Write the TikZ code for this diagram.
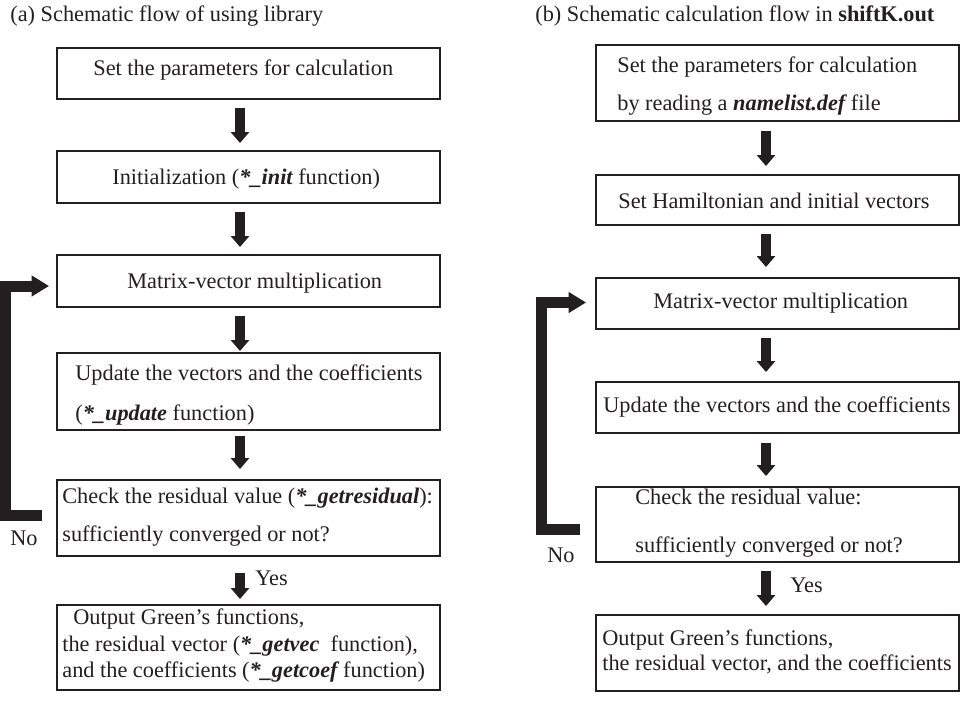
\documentclass[tikz,border=0pt]{standalone}
\usepackage{fontspec}
\setmainfont{Liberation Serif}
\usetikzlibrary{arrows.meta}
\definecolor{ink}{HTML}{231F20}

\tikzset{
  box/.style={draw=ink, line width=1.1pt, inner sep=0pt},
  boxA/.style={box, minimum width=7.66cm},
  boxB/.style={box, minimum width=7.26cm},
  txt/.style={anchor=base west, inner sep=0pt, text=ink, font=\fontsize{12.7}{15}\selectfont},
  flow/.style={draw=ink, line width=0.19cm, -{Triangle[length=0.22cm,width=0.36cm]}},
  back/.style={draw=ink, line width=0.22cm, line join=miter, -{Triangle[length=0.35cm,width=0.4cm]}},
}
\newcommand{\fn}[1]{{\bfseries\itshape #1}}

\begin{document}
\begin{tikzpicture}[x=0.02cm, y=-0.02cm]

    \useasboundingbox (0,0) rectangle (960,714);

    % (a) flow of using library
    \node[txt] (ta) at (10,21) {(a) Schematic flow of using library};

    \node[boxA, minimum height=1.02cm] (a1) at (248.5,73.5) {};
    \node[txt] (a1t) at (93,75) {Set the parameters for calculation};

    \node[boxA, minimum height=1.04cm] (a2) at (248.5,177) {};
    \node[txt] (a2t) at (112,184) {Initialization (\fn{*\_init} function)};

    \node[boxA, minimum height=1.04cm] (a3) at (248.5,281) {};
    \node[txt] (a3t) at (127,288) {Matrix-vector multiplication};

    \node[boxA, minimum height=1.54cm] (a4) at (248.5,391.5) {};
    \node[txt] (a4t) at (75,380) {Update the vectors and the coefficients};
    \node[txt] (a4u) at (75,420) {(\fn{*\_update} function)};

    \node[boxA, minimum height=1.52cm] (a5) at (248.5,518) {};
    \node[txt] (a5t) at (62,503) {Check the residual value (\fn{*\_getresidual}):};
    \node[txt] (a5u) at (62,541) {sufficiently converged or not?};

    \node[boxA, minimum height=1.7cm] (a6) at (248.5,647.5) {};
    \node[txt] (a6t) at (73,624) {Output Green’s functions,};
    \node[txt] (a6u) at (62,651) {the residual vector (\fn{*\_getvec}\ \ function),};
    \node[txt] (a6v) at (62,677) {and the coefficients (\fn{*\_getcoef} function)};

    \draw[flow] ([xshift=-0.17cm,yshift=-0.16cm]a1.south) -- ([xshift=-0.17cm,yshift=0.14cm]a2.north);
    \draw[flow] ([xshift=-0.17cm,yshift=-0.16cm]a2.south) -- ([xshift=-0.17cm,yshift=0.14cm]a3.north);
    \draw[flow] ([xshift=-0.17cm,yshift=-0.16cm]a3.south) -- ([xshift=-0.17cm,yshift=0.02cm]a4.north);
    \draw[flow] ([xshift=-0.17cm,yshift=-0.1cm]a4.south) -- ([xshift=-0.17cm,yshift=0.2cm]a5.north);
    \draw[flow] ([xshift=-0.17cm,yshift=-0.32cm]a5.south) -- ([xshift=-0.17cm,yshift=0.1cm]a6.north);
    \node[txt] (ya) at (255,585) {Yes};

    % loop back to the multiplication
    \coordinate (colA) at (5.5,0);
    \coordinate (noA) at ([xshift=-0.28cm,yshift=0.06cm]a5.west);
    \coordinate (inA) at ([xshift=-0.14cm,yshift=-0.1cm]a3.west);
    \draw[back] (noA) -- (noA -| colA) -- (inA -| colA) -- (inA);
    \node[txt] (na) at (10,545) {No};

    % (b) flow in shiftK.out
    \node[txt] (tb) at (535,21) {(b) Schematic calculation flow in \textbf{shiftK.out}};

    \node[boxB, minimum height=1.52cm] (b1) at (777.5,83) {};
    \node[txt] (b1t) at (617,72) {Set the parameters for calculation};
    \node[txt] (b1u) at (617,110) {by reading a \fn{namelist.def} file};

    \node[boxB, minimum height=1cm] (b2) at (777.5,200) {};
    \node[txt] (b2t) at (618,208) {Set Hamiltonian and initial vectors};

    \node[boxB, minimum height=1.02cm] (b3) at (777.5,303.5) {};
    \node[txt] (b3t) at (653,308) {Matrix-vector multiplication};

    \node[boxB, minimum height=1.02cm] (b4) at (777.5,407.5) {};
    \node[txt] (b4t) at (603,412) {Update the vectors and the coefficients};

    \node[boxB, minimum height=1.5cm] (b5) at (777.5,524.5) {};
    \node[txt] (b5t) at (635,504) {Check the residual value:};
    \node[txt] (b5u) at (635,552) {sufficiently converged or not?};

    \node[boxB, minimum height=1.52cm] (b6) at (777.5,653) {};
    \node[txt] (b6t) at (602,645) {Output Green’s functions,};
    \node[txt] (b6u) at (602,670) {the residual vector, and the coefficients};

    \draw[flow] ([xshift=-0.23cm,yshift=-0.18cm]b1.south) -- ([xshift=-0.23cm,yshift=0.16cm]b2.north);
    \draw[flow] ([xshift=-0.23cm,yshift=-0.16cm]b2.south) -- ([xshift=-0.23cm,yshift=0.2cm]b3.north);
    \draw[flow] ([xshift=-0.23cm,yshift=-0.16cm]b3.south) -- ([xshift=-0.23cm,yshift=0.18cm]b4.north);
    \draw[flow] ([xshift=-0.23cm,yshift=-0.18cm]b4.south) -- ([xshift=-0.23cm,yshift=0.2cm]b5.north);
    \draw[flow] ([xshift=-0.23cm,yshift=-0.16cm]b5.south) -- ([xshift=-0.23cm,yshift=0.16cm]b6.north);
    \node[txt] (yb) at (790,592) {Yes};

    % loop back to the multiplication
    \coordinate (colB) at (541.5,0);
    \coordinate (noB) at ([xshift=-0.3cm,yshift=-0.09cm]b5.west);
    \coordinate (inB) at ([xshift=-0.18cm,yshift=0.02cm]b3.west);
    \draw[back] (noB) -- (noB -| colB) -- (inB -| colB) -- (inB);
    \node[txt] (nb) at (547,562) {No};

\end{tikzpicture}
\end{document}
